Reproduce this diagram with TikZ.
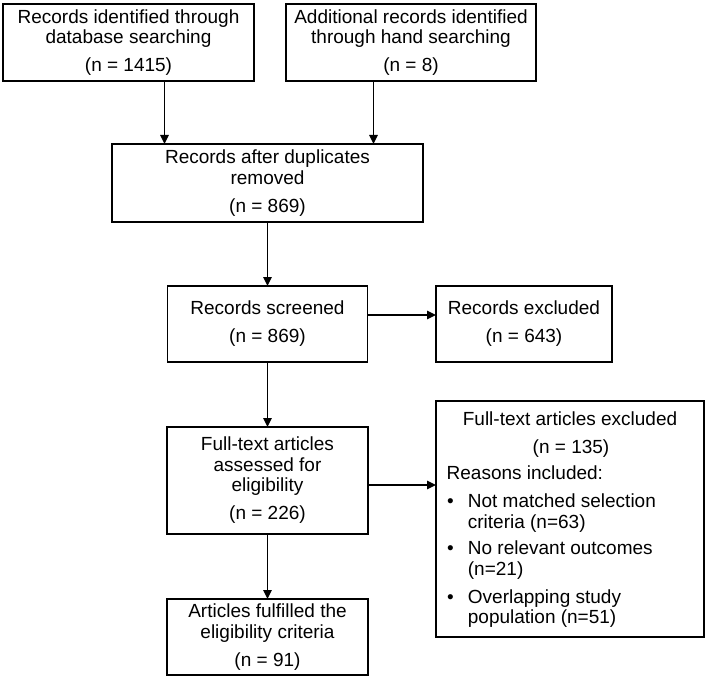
\documentclass[tikz,border=0pt]{standalone}
\usepackage{fontspec}
\setmainfont{Liberation Sans}
\usetikzlibrary{arrows.meta,calc}
\begin{document}
\begin{tikzpicture}[x=1pt,y=-1pt,
  font=\fontsize{19}{20.5}\selectfont,
  box/.style={draw, line width=1.5pt, inner sep=0pt, outer sep=0pt, align=center},
  arr/.style={line width=1.5pt, -{Triangle[length=9pt,width=8.5pt]}},
  txt/.style={inner sep=0pt, anchor=base west},
  ctxt/.style={inner sep=0pt, anchor=base}]
\useasboundingbox (0,0) rectangle (708,679);
\node (b1) [box, minimum width=251, minimum height=77] at (128.5,42.5)
  {Records identified through\\database searching\\[7.5pt](n = 1415)};
\node (b2) [box, minimum width=250, minimum height=77] at (411,42.5)
  {Additional records identified\\through hand searching\\[7.5pt](n = 8)};
\node (b3) [box, minimum width=311, minimum height=78] at (267.5,183)
  {Records after duplicates\\removed\\[7.5pt](n = 869)};
\node (b4) [box, minimum width=200, minimum height=76] at (267.5,324)
  {Records screened\\[7.5pt](n = 869)};
\node (b5) [box, minimum width=176, minimum height=76] at (524,324)
  {Records excluded\\[7.5pt](n = 643)};
\node (b6) [box, minimum width=201, minimum height=107] at (267.5,480.5)
  {Full-text articles\\assessed for\\eligibility\\[7.5pt](n = 226)};
\node (b7) [box, minimum width=268, minimum height=236] at (570,519) {};
\node (b8) [box, minimum width=201, minimum height=76] at (267.5,637)
  {Articles fulfilled the\\eligibility criteria\\[7.5pt](n = 91)};
% texts of the excluded full-text box
\node (t1) [ctxt] at (570,425.8) {Full-text articles excluded};
\node (t2) [ctxt] at (571,453) {(n = 135)};
\node (t3) [txt] at (446.5,479.8) {Reasons included:};
\node (u1) [txt] at (447,507.2) {•};
\node (t4) [txt] at (467.7,507.2) {Not matched selection};
\node (t5) [txt] at (467.7,528.2) {criteria (n=63)};
\node (u2) [txt] at (447,554.8) {•};
\node (t6) [txt] at (467.7,554.8) {No relevant outcomes};
\node (t7) [txt] at (467.7,575.8) {(n=21)};
\node (u3) [txt] at (447,603.2) {•};
\node (t8) [txt] at (467.7,603.2) {Overlapping study};
\node (t9) [txt] at (467.7,623.2) {population (n=51)};
% connectors
\draw[arr] ([xshift=-103pt]b3.north |- b1.south) -- ([xshift=-103pt]b3.north);
\draw[arr] ([xshift=106pt]b3.north |- b2.south) -- ([xshift=106pt]b3.north);
\draw[arr] (b3.south) -- (b4.north);
\draw[arr] ([yshift=9pt]b4.east) -- ([yshift=9pt]b4.east -| b5.west);
\draw[arr] (b4.south) -- (b6.north);
\draw[arr] ([yshift=-4.5pt]b6.east) -- ([yshift=-4.5pt]b6.east -| b7.west);
\draw[arr] (b6.south) -- (b8.north);
\end{tikzpicture}
\end{document}
